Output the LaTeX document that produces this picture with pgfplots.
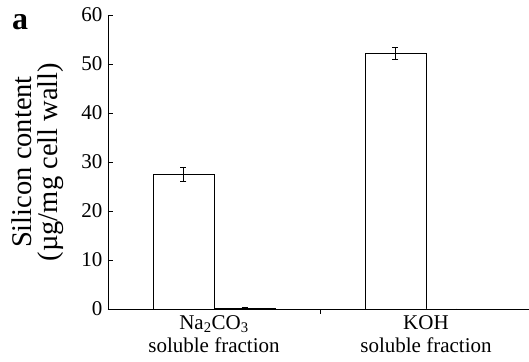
\documentclass[border=0pt]{standalone}
\usepackage{fontspec}
\setmainfont{Liberation Serif}
\usepackage{pgfplots}
\pgfplotsset{compat=1.18}
\begin{document}
\begin{tikzpicture}
\begin{axis}[
  scale only axis,
  width=421pt, height=294pt,
  xmin=0.5, xmax=2.486,
  ymin=0, ymax=60,
  axis x line*=bottom, axis y line*=left,
  axis line style={-, line width=0.8pt},
  tick align=inside,
  major tick length=5pt,
  tick style={black, line width=0.8pt},
  ytick={0,10,...,60},
  /pgf/number format/assume math mode=true,
  yticklabel style={font=\fontsize{21}{21}\selectfont, xshift=-2pt},
  xtick={1.5}, xticklabels={},
  extra x ticks={1,2},
  extra x tick labels={{Na\textsubscript{2}CO\textsubscript{3}\\soluble fraction},{KOH\\soluble fraction}},
  extra x tick style={major tick length=0pt, xticklabel style={align=center, yshift=-3pt, font=\fontsize{21}{23}\selectfont}},
  ylabel={Silicon content\\(µg/mg cell wall)},
  ylabel style={at={(axis description cs:-0.166,0.5)}, anchor=center, align=center, font=\fontsize{28.5}{26}\selectfont},
  ybar,
  bar width=0.288,
  clip=false,
]
\addplot[draw=black, fill=white, line width=0.6pt, bar shift=-0.144,
  error bars/.cd, y dir=both, y explicit,
  error bar style={line width=0.6pt, black},
  error mark options={rotate=90, mark size=3pt, line width=0.6pt, black}]
  coordinates {(1,27.5) +- (0,1.5) (2,52.2) +- (0,1.2)};
\addplot[draw=black, fill=white, line width=0.6pt, bar shift=0.144,
  error bars/.cd, y dir=both, y explicit,
  error bar style={line width=0.6pt, black},
  error mark options={rotate=90, mark size=3pt, line width=0.6pt, black}]
  coordinates {(1,0.2) +- (0,0.1) (2,0) +- (0,0)};
\node[anchor=base west, inner sep=0pt, font=\fontsize{32}{32}\selectfont\bfseries] at ([xshift=-96pt,yshift=-15pt]rel axis cs:0,1) {a};
\end{axis}
\pgfresetboundingbox
\path[use as bounding box] (current axis.south west) ++(-108pt,-53pt) rectangle ([yshift=15pt]current axis.north east);
\end{tikzpicture}
\end{document}
